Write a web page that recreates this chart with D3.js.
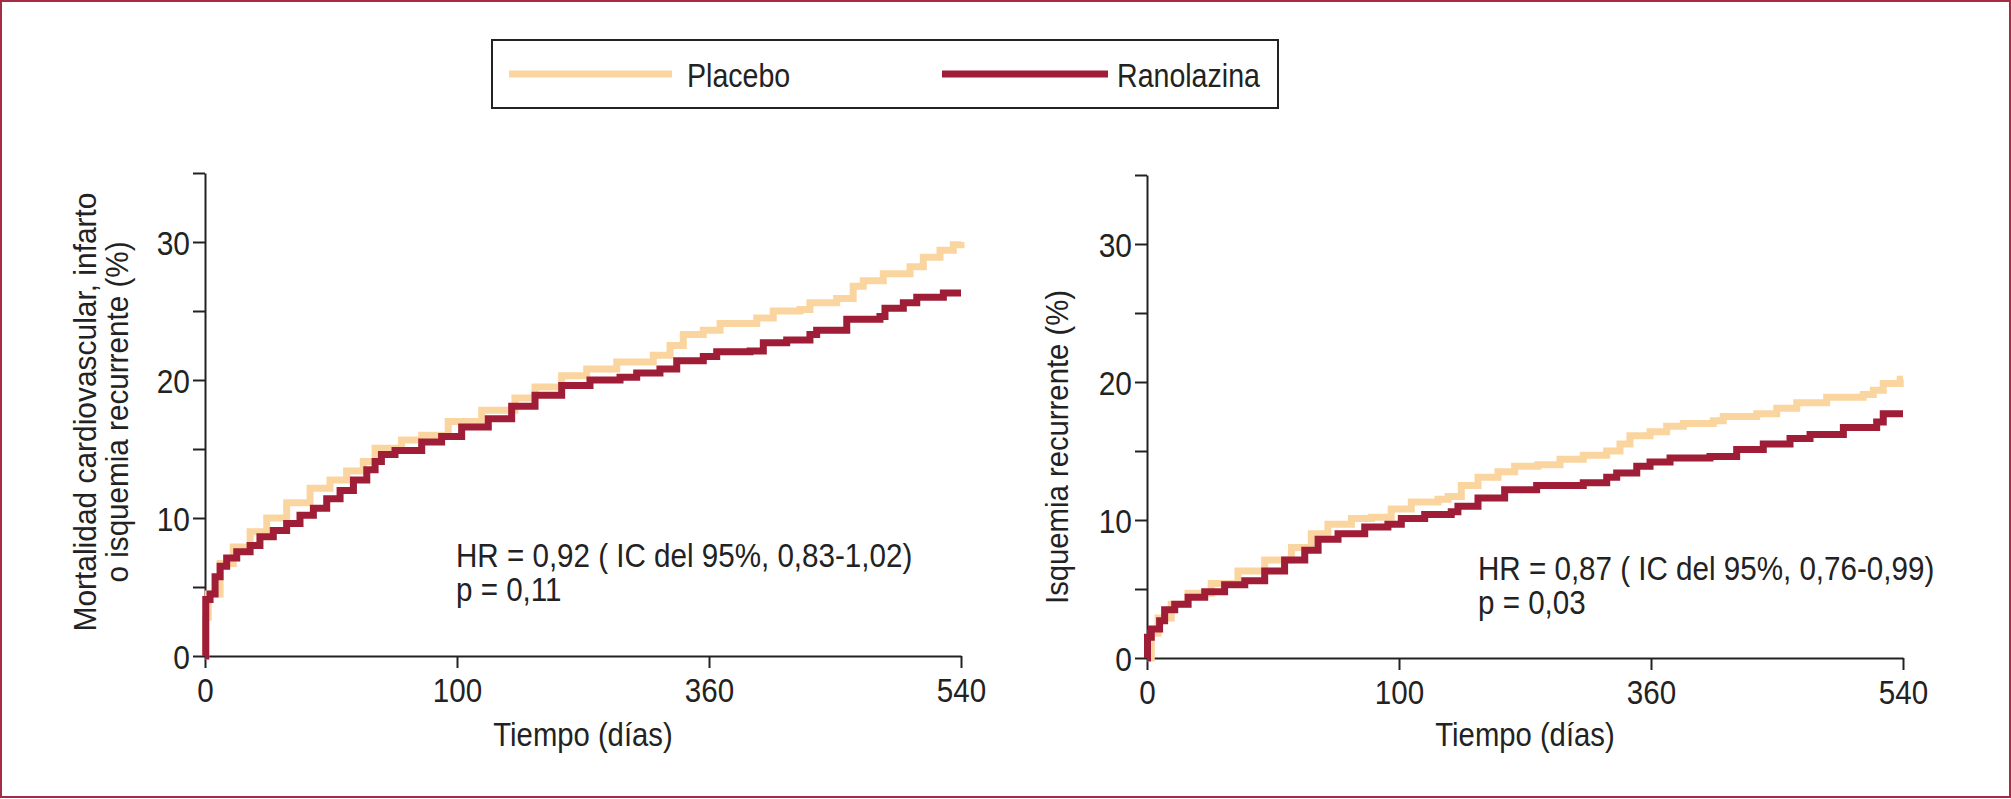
<!DOCTYPE html>
<html>
<head>
<meta charset="utf-8">
<script src="https://cdn.jsdelivr.net/npm/d3@7"></script>
<style>
  html, body { margin: 0; padding: 0; background: #fff; }
  svg { display: block; }
  text { font-family: "Liberation Sans", Arial, Helvetica, sans-serif; }
</style>
</head>
<body>
<svg id="chart"></svg>
<script>
// datos: [días, %]
const seriesNames = ['Placebo', 'Ranolazina'];
const seriesColors = ['#fbd59f', '#a01d37'];

const xTicks = [0, 100, 360, 540];
const yTicksMajor = [0, 10, 20, 30];
const yTicksAll = [0, 5, 10, 15, 20, 25, 30, 35];

const placeboMort = [
  [0, 0], [0.3, 2.8], [1.3, 4.5], [6, 6.7], [11.2, 7.9], [17.9, 9.0], [24.5, 10.0],
  [32.4, 11.1], [41.7, 12.15], [49.6, 12.75], [56.2, 13.4], [62.8, 14.1], [67.5, 15.05],
  [78, 15.65], [86, 16.0], [96.5, 17.0], [125.5, 17.8], [159.8, 18.7], [180.5, 19.5],
  [208, 20.3], [233.8, 20.8], [264.8, 21.3], [302.5, 21.8], [319.8, 22.5], [333.5, 23.3],
  [354.1, 23.6], [367.9, 24.1], [394.1, 24.5], [405.9, 25.0], [425, 25.1], [432.1, 25.6],
  [451.2, 25.9], [463, 26.8], [470.2, 27.2], [484.5, 27.7], [503.6, 28.2], [513.1, 28.9],
  [525, 29.4], [534.5, 29.8], [540, 30.0]
];
const ranolazinaMort = [
  [0, 0], [0.3, 4.1], [2, 4.5], [4, 5.75], [6, 6.5], [8.6, 7.1], [12.6, 7.55], [17.9, 8.0],
  [21.8, 8.65], [27.1, 9.1], [32.4, 9.6], [37.7, 10.2], [43, 10.7], [48.3, 11.4], [53.6, 12.0],
  [58.9, 12.75], [64.2, 13.5], [67.5, 14.1], [70, 14.6], [75.4, 14.9], [86, 15.5], [93.9, 15.9],
  [104.8, 16.6], [132.3, 17.2], [156.4, 18.1], [180.5, 18.9], [208, 19.6], [237.2, 20.0],
  [268.2, 20.2], [285.4, 20.5], [309.4, 20.8], [326.7, 21.4], [354.1, 21.7], [365.5, 22.05],
  [389.3, 22.1], [398.8, 22.7], [415.5, 22.9], [432.1, 23.3], [436.9, 23.6], [458.4, 24.4],
  [482.1, 24.6], [485.7, 25.2], [498.8, 25.6], [508.4, 26.0], [527.4, 26.3], [540, 26.3]
];
const placeboIsq = [
  [0, 0], [1.7, 1.8], [4.4, 2.9], [9.6, 3.9], [16.3, 4.7], [25.5, 5.4], [36.1, 6.3],
  [46.7, 7.1], [57.3, 8.0], [65.2, 9.0], [71.8, 9.7], [81.1, 10.1], [89, 10.2], [96.9, 10.8],
  [112.7, 11.3], [140.2, 11.5], [150.6, 11.7], [164.3, 12.5], [181.5, 13.1], [202.1, 13.5],
  [219.3, 13.9], [243.4, 14.0], [266.1, 14.4], [290.1, 14.7], [314.3, 15.0], [328, 15.5],
  [338.3, 16.1], [359, 16.4], [371.2, 16.8], [383.1, 17.0], [404.5, 17.2], [411.6, 17.5],
  [435.5, 17.7], [449.8, 18.1], [464.1, 18.5], [485.5, 18.9], [511.6, 19.1], [518.8, 19.4],
  [525.9, 19.9], [538, 20.2], [540, 20.2]
];
const ranolazinaIsq = [
  [0, 0], [0.2, 1.5], [1.7, 2.1], [5, 2.7], [7, 3.5], [11, 3.9], [16.3, 4.4], [22.9, 4.8],
  [30.8, 5.3], [38.8, 5.6], [46.7, 6.3], [54.6, 7.1], [62.6, 7.8], [67.9, 8.6], [75.8, 9.0],
  [86.4, 9.5], [95.6, 9.7], [102.4, 10.1], [126.5, 10.4], [153.9, 10.6], [160.8, 11.0],
  [181.5, 11.6], [209, 12.2], [242, 12.5], [290.1, 12.7], [314.3, 13.1], [324.6, 13.4],
  [345.3, 13.9], [359, 14.2], [373.6, 14.5], [402.1, 14.6], [421.2, 15.1], [440.2, 15.5],
  [459.3, 15.9], [473.6, 16.2], [497.4, 16.7], [521.2, 17.1], [525.9, 17.7], [540, 17.7]
];

const yTitles = [
  ['Mortalidad cardiovascular, infarto', 'o isquemia recurrente (%)'],
  ['Isquemia recurrente (%)']
];
const hrTexts = [
  ['HR = 0,92 ( IC del 95%, 0,83-1,02)', 'p = 0,11'],
  ['HR = 0,87 ( IC del 95%, 0,76-0,99)', 'p = 0,03']
];

const W = 2011, H = 799;
const svg = d3.select('#chart').attr('width', W).attr('height', H);

// no hay fuente condensada: se estrecha con textLength
function condense(sel, k) {
  sel.each(function () {
    const len = this.getComputedTextLength();
    d3.select(this).attr('textLength', len * k).attr('lengthAdjust', 'spacingAndGlyphs');
  });
}

// marco
svg.append('rect')
  .attr('x', 1).attr('y', 1).attr('width', W - 2).attr('height', H - 3)
  .attr('fill', '#fff').attr('stroke', '#a52c44').attr('stroke-width', 2);

// leyenda
const leg = svg.append('g');
leg.append('rect')
  .attr('x', 492).attr('y', 40).attr('width', 786).attr('height', 68)
  .attr('fill', 'none').attr('stroke', '#222').attr('stroke-width', 2);
[[509, 672, 687], [942, 1108, 1117]].forEach((p, i) => {
  leg.append('line')
    .attr('x1', p[0]).attr('x2', p[1]).attr('y1', 74).attr('y2', 74)
    .attr('stroke', seriesColors[i]).attr('stroke-width', 7);
  leg.append('text')
    .attr('x', p[2]).attr('y', 87)
    .attr('font-size', 34).attr('fill', '#222')
    .text(seriesNames[i])
    .call(condense, 0.84);
});

const panels = [
  { x0: 205, y0: 656, series: [placeboMort, ranolazinaMort], titleX: [96, 128], titleY: 412, titleLen: [439, 341], hrX: 456, hrY: 567 },
  { x0: 1147, y0: 658, series: [placeboIsq, ranolazinaIsq], titleX: [1068], titleY: 447, titleLen: [314], hrX: 1478, hrY: 580 }
];

panels.forEach((p, pi) => {
  const seg = 252;
  const x = d3.scaleLinear().domain(xTicks).range(xTicks.map((d, i) => p.x0 + i * seg));
  const y = d3.scaleLinear().domain([0, 35]).range([p.y0, p.y0 - 35 * 13.8]);

  const g = svg.append('g');

  // eje y
  const yAxis = d3.axisLeft(y).tickValues(yTicksAll).tickSize(12).tickSizeOuter(0)
    .tickFormat(d => yTicksMajor.includes(d) ? d : '');
  const gy = g.append('g').attr('transform', `translate(${p.x0},0)`).call(yAxis)
    .attr('font-family', null).attr('font-size', null);
  gy.select('.domain').attr('stroke', '#222').attr('stroke-width', 2);
  gy.selectAll('.tick line').attr('stroke', '#222').attr('stroke-width', 2);
  gy.selectAll('.tick text').attr('font-size', 34)
    .attr('fill', '#222').attr('x', -15).attr('dy', '0.36em')
    .call(condense, 0.88);

  // eje x
  const xAxis = d3.axisBottom(x).tickValues(xTicks).tickSize(12).tickSizeOuter(0).tickFormat(d => d);
  const gx = g.append('g').attr('transform', `translate(0,${p.y0})`).call(xAxis)
    .attr('font-family', null).attr('font-size', null);
  gx.select('.domain').attr('stroke', '#222').attr('stroke-width', 2);
  gx.selectAll('.tick line').attr('stroke', '#222').attr('stroke-width', 2);
  gx.selectAll('.tick text').attr('font-size', 34)
    .attr('fill', '#222').attr('y', 22).attr('dy', '0.71em')
    .call(condense, 0.87);

  // título eje x
  g.append('text')
    .attr('x', (x(0) + x(540)) / 2).attr('y', 746)
    .attr('text-anchor', 'middle').attr('font-size', 34).attr('fill', '#222')
    .text('Tiempo (días)')
    .call(condense, 0.86);

  // título eje y
  yTitles[pi].forEach((t, li) => {
    g.append('text')
      .attr('transform', `translate(${p.titleX[li]},${p.titleY}) rotate(-90)`)
      .attr('text-anchor', 'middle').attr('font-size', 32).attr('fill', '#222')
      .attr('textLength', p.titleLen[li]).attr('lengthAdjust', 'spacingAndGlyphs')
      .text(t);
  });

  // curvas
  const line = d3.line().x(d => x(d[0])).y(d => y(d[1])).curve(d3.curveStepAfter);
  p.series.forEach((s, si) => {
    g.append('path').datum(s)
      .attr('d', line)
      .attr('fill', 'none')
      .attr('stroke', seriesColors[si])
      .attr('stroke-width', 7);
  });

  // HR
  hrTexts[pi].forEach((t, li) => {
    g.append('text')
      .attr('x', p.hrX).attr('y', p.hrY + li * 34)
      .attr('font-size', 34).attr('fill', '#222')
      .text(t)
      .call(condense, 0.87);
  });
});
</script>
</body>
</html>
